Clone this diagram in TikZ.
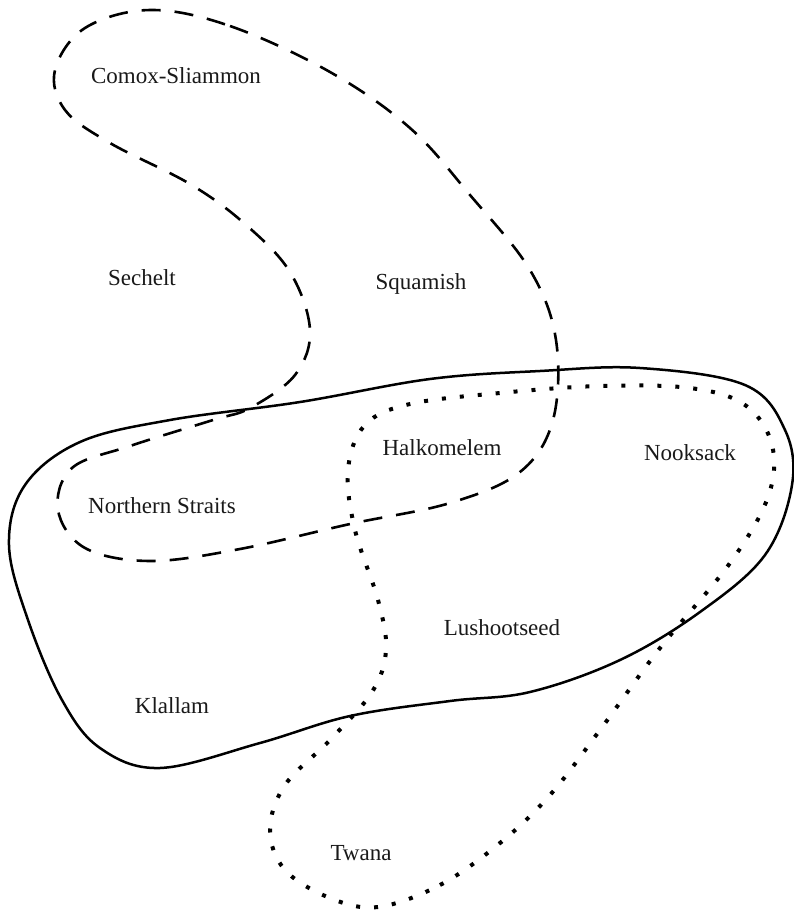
\documentclass[tikz,border=0pt]{standalone}
\usepackage{fontspec}
\setmainfont{Liberation Serif}
\begin{document}
\begin{tikzpicture}[x=1pt,y=-1pt,
  lbl/.style={anchor=base,inner sep=0pt,font=\fontsize{23}{26}\selectfont,text=black!90},
  solidline/.style={line width=2.5pt,black},
  dashline/.style={line width=2.6pt,black,dash pattern=on 19pt off 14pt},
  dotline/.style={line width=4pt,black,dash pattern=on 4pt off 14pt}]
\useasboundingbox (0,0) rectangle (794,911);
% solid region
\draw[solidline] plot[smooth cycle,tension=0.6] coordinates {
 (640,368) (745,385) (785,430) (792,485) (765,555) (700,612) (620,660) (530,692)
 (450,701) (350,716) (260,743) (160,768) (100,748) (62,700) (28,620) (9,545)
 (25,485) (80,442) (170,420) (300,402) (430,379) (540,371)};
% dashed region
\draw[dashline] plot[smooth cycle,tension=0.6] coordinates {
 (150,10) (230,26) (330,72) (410,128) (470,195) (530,270) (556,340) (553,420)
 (520,472) (450,503) (350,524) (240,549) (150,561) (85,548) (58,510) (72,468)
 (130,446) (213,420) (250,408) (295,375) (310,330) (290,272) (245,224) (190,184)
 (110,143) (65,110) (55,70) (85,28)};
% dotted region
\draw[dotline] plot[smooth cycle,tension=0.6] coordinates {
 (378,907) (440,885) (500,843) (550,795) (600,730) (660,648) (730,563) (768,497)
 (772,445) (745,405) (690,388) (600,386) (500,393) (410,404) (365,425) (348,470)
 (355,530) (378,600) (386,650) (372,692) (330,740) (285,785) (270,830) (285,870)
 (330,898)};
% labels
\node[lbl] (comox) at (176,83) {Comox-Sliammon};
\node[lbl] (sechelt) at (142,285) {Sechelt};
\node[lbl] (squamish) at (421,289) {Squamish};
\node[lbl] (halkomelem) at (442,455) {Halkomelem};
\node[lbl] (nooksack) at (690,460) {Nooksack};
\node[lbl] (northern) at (162,513) {Northern Straits};
\node[lbl] (lushootseed) at (502,635) {Lushootseed};
\node[lbl] (klallam) at (172,713) {Klallam};
\node[lbl] (twana) at (361,860) {Twana};
\end{tikzpicture}
\end{document}
